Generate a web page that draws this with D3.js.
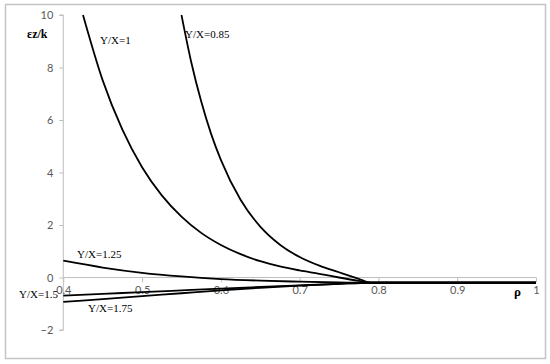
<!DOCTYPE html>
<html><head><meta charset="utf-8">
<script src="https://cdn.jsdelivr.net/npm/d3@7"></script>
<style>body{margin:0;background:#fff}</style>
</head><body>
<svg id="c" width="550" height="364"></svg>
<script>
const xTicks = [0.4,0.5,0.6,0.7,0.8,0.9,1];
const yTicks = [-2,0,2,4,6,8,10];

const sYX1_x = [0.425,0.45,0.475,0.5,0.525,0.55,0.575,0.6,0.625,0.65,0.675,0.7,0.725,0.75,0.775,0.79,1.0];
const sYX1_y = [10,7.51,5.63,4.2,3.13,2.32,1.70,1.24,0.89,0.62,0.42,0.27,0.14,0.0,-0.13,-0.2,-0.2];

const sYX085_x = [0.55,0.5625,0.575,0.5875,0.6,0.625,0.65,0.675,0.7,0.725,0.75,0.775,0.79,1.0];
const sYX085_y = [10,8.19,6.71,5.48,4.48,2.96,1.94,1.25,0.78,0.45,0.2,-0.05,-0.2,-0.2];

const sYX125_x = [0.4,0.45,0.5,0.55,0.6,0.65,0.7,0.75,0.79,1.0];
const sYX125_y = [0.64,0.38,0.18,0.04,-0.06,-0.12,-0.16,-0.19,-0.2,-0.2];

const sYX15_x = [0.4,0.45,0.5,0.55,0.6,0.65,0.7,0.75,0.79,1.0];
const sYX15_y = [-0.69,-0.62,-0.56,-0.49,-0.42,-0.36,-0.3,-0.24,-0.2,-0.2];

const sYX175_x = [0.4,0.45,0.5,0.55,0.6,0.65,0.7,0.75,0.79,1.0];
const sYX175_y = [-0.93,-0.82,-0.71,-0.6,-0.49,-0.39,-0.31,-0.24,-0.2,-0.2];

const labels = ["Y/X=1","Y/X=0.85","Y/X=1.25","Y/X=1.5","Y/X=1.75"];

const svg = d3.select("#c");
const x = d3.scaleLinear().domain([0.4,1]).range([63.3,536]);
const y = d3.scaleLinear().domain([-2,10]).range([330,15]);

svg.append("rect").attr("x",5.5).attr("y",4.5).attr("width",540).attr("height",354)
  .attr("fill","none").attr("stroke","#c4c4c4").attr("stroke-width",1.5);

const ya = svg.append("g").attr("transform",`translate(${x(0.4)},0)`)
  .call(d3.axisLeft(y).tickValues(yTicks).tickSize(4).tickPadding(6).tickFormat(d3.format("d")));
ya.select(".domain").attr("stroke","#bfbfbf").attr("d",`M-4,${y(10)}H0V${y(-2)}H-4`);
ya.selectAll(".tick line").attr("stroke","#bfbfbf");
ya.selectAll(".tick text").attr("fill","#595959").style("font-family","Lato, 'Open Sans', sans-serif").style("font-size","11px");

const xa = svg.append("g").attr("transform",`translate(0,${y(0)})`)
  .call(d3.axisBottom(x).tickValues(xTicks).tickSize(5).tickPadding(4).tickFormat(d => d===1?"1":d3.format(".1f")(d)));
xa.select(".domain").attr("stroke","#bfbfbf").attr("d",`M${x(0.4)},0H${x(1)}`);
xa.selectAll(".tick line").attr("stroke","#bfbfbf");
xa.selectAll(".tick text").attr("fill","#595959").style("font-family","Lato, 'Open Sans', sans-serif").style("font-size","11px");

const series = [[sYX1_x,sYX1_y],[sYX085_x,sYX085_y],[sYX125_x,sYX125_y],[sYX15_x,sYX15_y],[sYX175_x,sYX175_y]];
const line = d3.line().x(d=>x(d[0])).y(d=>y(d[1])).curve(d3.curveMonotoneX);
series.forEach(([xs,ys])=>{
  svg.append("path").datum(xs.map((v,i)=>[v,ys[i]])).attr("d",line)
    .attr("fill","none").attr("stroke","#000").attr("stroke-width",1.8);
});

const tf = "'Liberation Serif', 'DejaVu Serif', serif";
const lab = [[100,44],[185,38],[77,258],[19,298],[88,312]];
labels.forEach((t,i)=>{
  svg.append("text").attr("x",lab[i][0]).attr("y",lab[i][1]).text(t)
    .style("font-family",tf).style("font-size","11px").attr("fill","#000");
});

svg.append("text").attr("x",27).attr("y",38).text("εz/k")
  .style("font-family",tf).style("font-size","12px").style("font-weight","bold");
svg.append("text").attr("x",514).attr("y",296).text("ρ")
  .style("font-family",tf).style("font-size","13px").style("font-weight","bold");
</script>
</body></html>
